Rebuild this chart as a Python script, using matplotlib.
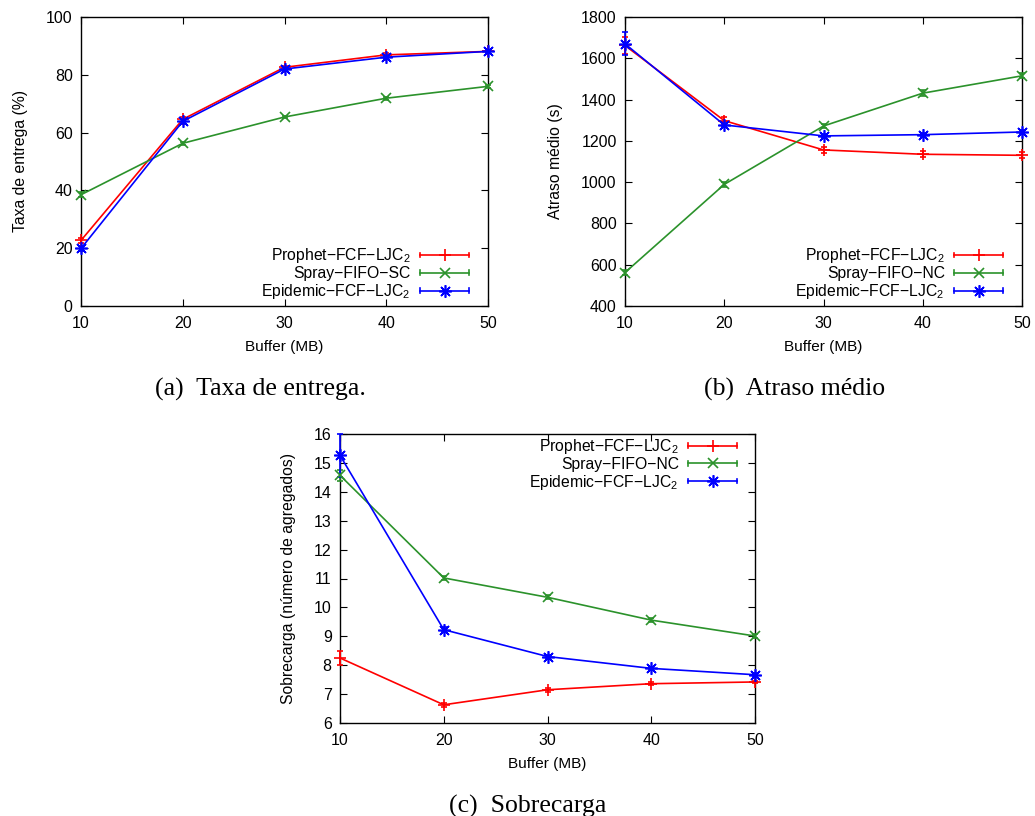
import numpy as np
import matplotlib
matplotlib.use("Agg")
import matplotlib.pyplot as plt
from matplotlib.lines import Line2D
from matplotlib.legend_handler import HandlerLine2D

plt.rcParams['font.family'] = ['Liberation Sans', 'DejaVu Sans']
plt.rcParams['mathtext.default'] = 'regular'

# Buffer sizes (MB)
buffer_mb = [10, 20, 30, 40, 50]

# (a) delivery rate (%)
taxa_prophet = [22.7, 64.6, 82.6, 86.9, 88.1]
taxa_spray = [38.5, 56.3, 65.4, 71.9, 76.0]
taxa_epidemic = [19.9, 63.9, 82.0, 86.1, 88.1]
taxa_prophet_err = [1.0, 0.8, 0.6, 0.5, 0.4]
taxa_spray_err = [0.8, 0.6, 0.5, 0.5, 0.4]
taxa_epidemic_err = [1.0, 0.8, 0.6, 0.5, 0.4]

# (b) mean delay (s)
atraso_prophet = [1662, 1298, 1156, 1135, 1130]
atraso_spray = [562, 989, 1272, 1431, 1515]
atraso_epidemic = [1670, 1277, 1224, 1230, 1243]
atraso_prophet_err = [40, 18, 15, 15, 15]
atraso_spray_err = [12, 12, 12, 15, 12]
atraso_epidemic_err = [56, 12, 10, 10, 10]

# (c) overhead (number of aggregates)
sobre_prophet = [8.25, 6.63, 7.15, 7.36, 7.42]
sobre_spray = [14.57, 11.02, 10.35, 9.56, 9.01]
sobre_epidemic = [15.26, 9.23, 8.30, 7.89, 7.67]
sobre_prophet_err = [0.25, 0.07, 0.07, 0.06, 0.05]
sobre_spray_err = [0.2, 0.07, 0.07, 0.07, 0.06]
sobre_epidemic_err = [0.75, 0.08, 0.06, 0.05, 0.05]

RED = '#ff0000'
GREEN = '#2b922b'
BLUE = '#0000ff'
STAR = (8, 2, 0)


class CapHandler(HandlerLine2D):
    # gnuplot-like key sample: line with end caps and marker in the middle
    def create_artists(self, legend, orig_handle, xdescent, ydescent,
                       width, height, fontsize, trans):
        artists = super().create_artists(legend, orig_handle, xdescent, ydescent,
                                         width, height, fontsize, trans)
        y = height / 2 - ydescent
        h = 0.22 * height
        for x in (-xdescent, -xdescent + width):
            cap = Line2D([x, x], [y - h, y + h], color=orig_handle.get_color(),
                         lw=orig_handle.get_linewidth())
            cap.set_transform(trans)
            artists.append(cap)
        return artists


def panel(ax, series, ylim, yticks, ylabel, legend_loc, bbox):
    handles = []
    for vals, errs, color, marker, ms, name in series:
        ax.errorbar(buffer_mb, vals, yerr=errs, color=color, lw=1.2,
                    marker=marker, ms=ms, mew=1.2, capsize=2, elinewidth=1.2,
                    clip_on=False, zorder=3)
        handles.append(Line2D([], [], color=color, lw=1.2, marker=marker,
                              ms=ms, mew=1.2, label=name))
    ax.set_xlim(10, 50)
    ax.set_ylim(*ylim)
    ax.set_xticks(buffer_mb)
    ax.set_yticks(yticks)
    ax.tick_params(direction='in', top=True, right=True, length=5,
                   labelsize=11.5, pad=6)
    ax.tick_params(axis='x', pad=7)
    ax.set_xlabel('Buffer (MB)', fontsize=11, labelpad=6.5)
    ax.set_ylabel(ylabel, fontsize=11.3, labelpad=13)
    for s in ax.spines.values():
        s.set_linewidth(1.0)
    ax.legend(handles=handles, loc=legend_loc, bbox_to_anchor=bbox,
              bbox_transform=ax.figure.transFigure,
              frameon=False, markerfirst=False, fontsize=11.3, numpoints=1,
              handlelength=3.1, handletextpad=0.6, labelspacing=0.05,
              borderpad=0, borderaxespad=0,
              handler_map={Line2D: CapHandler()})


fig = plt.figure(figsize=(10.35, 8.16), dpi=100)

ax_a = fig.add_axes([81 / 1035, 1 - 306 / 816, 407 / 1035, 289 / 816])
panel(ax_a,
      [(taxa_prophet, taxa_prophet_err, RED, '+', 9, 'Prophet−FCF−LJC$_2$'),
       (taxa_spray, taxa_spray_err, GREEN, 'x', 7, 'Spray−FIFO−SC'),
       (taxa_epidemic, taxa_epidemic_err, BLUE, STAR, 9, 'Epidemic−FCF−LJC$_2$')],
      (0, 100), range(0, 101, 20), 'Taxa de entrega (%)',
      'lower right', (469 / 1035, 1 - 301 / 816))

ax_b = fig.add_axes([625 / 1035, 1 - 306 / 816, 397 / 1035, 289 / 816])
panel(ax_b,
      [(atraso_prophet, atraso_prophet_err, RED, '+', 9, 'Prophet−FCF−LJC$_2$'),
       (atraso_spray, atraso_spray_err, GREEN, 'x', 7, 'Spray−FIFO−NC'),
       (atraso_epidemic, atraso_epidemic_err, BLUE, STAR, 9, 'Epidemic−FCF−LJC$_2$')],
      (400, 1800), range(400, 1801, 200), 'Atraso médio (s)',
      'lower right', (1003 / 1035, 1 - 301 / 816))

ax_c = fig.add_axes([340 / 1035, 1 - 723 / 816, 415 / 1035, 289 / 816])
panel(ax_c,
      [(sobre_prophet, sobre_prophet_err, RED, '+', 9, 'Prophet−FCF−LJC$_2$'),
       (sobre_spray, sobre_spray_err, GREEN, 'x', 7, 'Spray−FIFO−NC'),
       (sobre_epidemic, sobre_epidemic_err, BLUE, STAR, 9, 'Epidemic−FCF−LJC$_2$')],
      (6, 16), range(6, 17, 1), 'Sobrecarga (número de agregados)',
      'upper right', (737 / 1035, 1 - 437 / 816))

cap_font = dict(family=['Liberation Serif', 'DejaVu Serif'], fontsize=18.5,
                ha='center', va='center')
fig.text(260 / 1035, 1 - 389 / 816, '(a)  Taxa de entrega.', **cap_font)
fig.text(795 / 1035, 1 - 389 / 816, '(b)  Atraso médio', **cap_font)
fig.text(528 / 1035, 1 - 806 / 816, '(c)  Sobrecarga', **cap_font)

fig.savefig('out.png', dpi=100)
